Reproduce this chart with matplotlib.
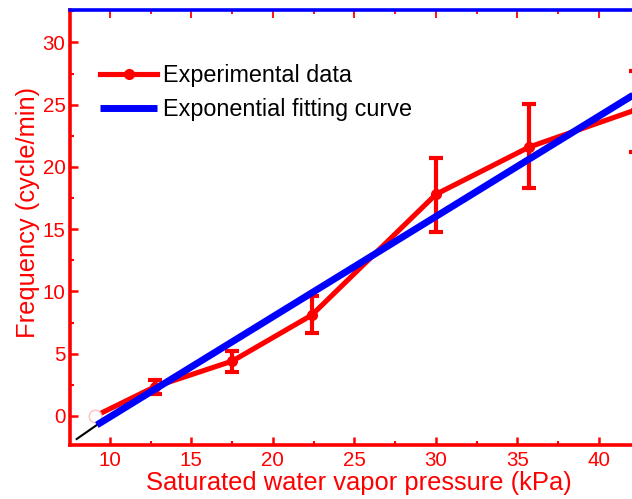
import matplotlib
matplotlib.use("Agg")
import matplotlib.pyplot as plt
import numpy as np

plt.rcParams['font.family'] = ['Liberation Sans', 'DejaVu Sans']

# Experimental data
pressure = [9.1, 12.76, 17.51, 22.38, 30.0, 35.73, 42.3]
frequency = [0.0, 2.35, 4.41, 8.1, 17.8, 21.6, 24.6]
err_low = [0.0, 1.8, 3.56, 6.64, 14.8, 18.27, 21.2]
err_high = [0.0, 2.9, 5.2, 9.65, 20.7, 25.04, 27.7]

# Fitting curve
fit_x = [9.2, 20.0, 30.0, 42.6]
fit_y = [-0.72, 7.97, 16.02, 26.17]
ext_x = [7.96, 9.2]
ext_y = [-1.85, -0.72]

xticks = [10, 15, 20, 25, 30, 35, 40]
yticks = [0, 5, 10, 15, 20, 25, 30]

RED = '#ff0000'
BLUE = '#0000ff'

W, H = 632, 499
fig = plt.figure(figsize=(W / 100, H / 100), dpi=100)
xlim = (7.55, 42.6)
ylim = (-2.33, 32.6)
ax_left = 70 / W
ax_w = (xlim[1] - xlim[0]) * 16.3 / W
ax_bottom = (H - 445) / H
ax_h = 435 / H
ax = fig.add_axes([ax_left, ax_bottom, ax_w, ax_h])

fc = np.array(frequency)
lo = fc - np.array(err_low)
hi = np.array(err_high) - fc

ax.errorbar(pressure[1:], frequency[1:], yerr=[lo[1:], hi[1:]], fmt='none',
            ecolor=RED, elinewidth=3.0, capsize=5, capthick=3.0, zorder=2)
line_exp, = ax.plot(pressure, frequency, color=RED, lw=3.7, marker='o',
                    markersize=7, zorder=3)
ax.plot(pressure[:1], frequency[:1], linestyle='none', marker='o', markersize=9,
        markerfacecolor='white', markeredgecolor='#ffc0c0', markeredgewidth=1.0, zorder=4)
ax.plot(ext_x, ext_y, color='black', lw=1.5, zorder=3)
line_fit, = ax.plot(fit_x, fit_y, color=BLUE, lw=5.0, zorder=5,
                    solid_capstyle='butt')

ax.set_xlim(*xlim)
ax.set_ylim(*ylim)
ax.set_xticks(xticks)
ax.set_yticks(yticks)
ax.set_xticks(np.arange(12.5, 42.6, 5), minor=True)
ax.set_yticks(np.arange(2.5, 32.6, 5), minor=True)

for side in ['left', 'bottom', 'right']:
    ax.spines[side].set_color(RED)
    ax.spines[side].set_linewidth(2.6)
ax.spines['top'].set_color(BLUE)
ax.spines['top'].set_linewidth(2.6)

ax.tick_params(axis='both', which='major', direction='in', length=6, width=1.8,
               colors=RED, labelsize=14.8)
ax.tick_params(axis='x', which='major', pad=4.0)
ax.tick_params(axis='y', which='major', pad=3.2)
ax.tick_params(axis='both', which='minor', direction='in', length=2.8, width=1.5,
               colors=RED)
ax.tick_params(axis='x', which='both', top=True)
ax.tick_params(axis='y', which='both', right=True)

# top axis ticks in blue
for t in ax.xaxis.get_major_ticks() + ax.xaxis.get_minor_ticks():
    t.tick2line.set_color(BLUE)
    t.tick2line.set_markeredgewidth(1.3)

ax.set_xlabel('Saturated water vapor pressure (kPa)', fontsize=18.4, color=RED)
ax.set_ylabel('Frequency (cycle/min)', fontsize=18.4, color=RED)
ax.xaxis.set_label_coords((359 - 70) / (ax_w * W), (445 - 471) / 435)
ax.yaxis.set_label_coords((40 - 70) / (ax_w * W), (445 - 212) / 435)

leg = ax.legend([line_exp, line_fit], ['Experimental data', 'Exponential fitting curve'],
                loc='upper left', bbox_to_anchor=(100 / W, 1 - 64 / H),
                bbox_transform=fig.transFigure, frameon=False, fontsize=16.8,
                handlelength=2.45, handletextpad=0.25, labelspacing=0.48,
                borderpad=0, borderaxespad=0, markerscale=1.0)
for txt in leg.get_texts():
    txt.set_color('black')

fig.savefig('out.png', dpi=100)
